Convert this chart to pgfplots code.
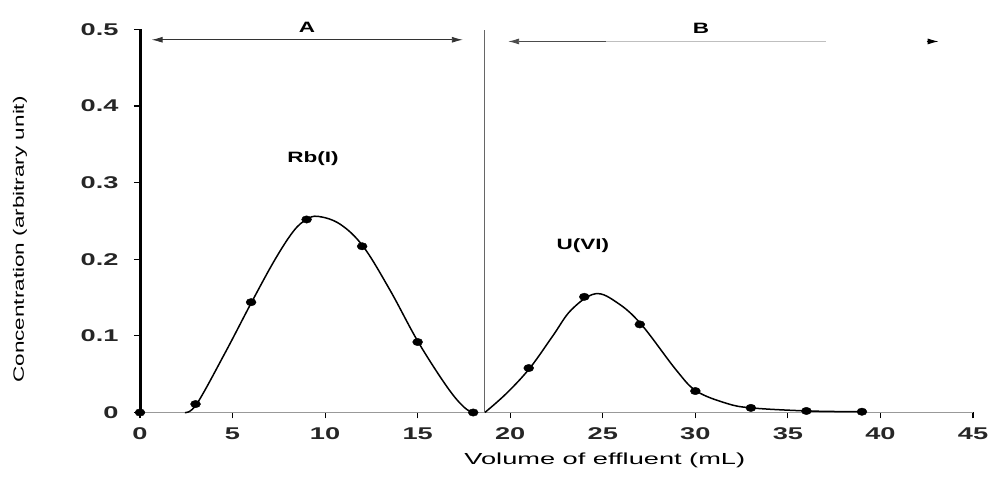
\documentclass[border=0pt]{standalone}
\usepackage{pgfplots}
\pgfplotsset{compat=1.18}
\usepackage{fontspec}
\setmainfont{Liberation Sans}
\usetikzlibrary{arrows.meta}
\newcommand{\sx}[1]{\scalebox{1.6}[1]{#1}}
\begin{document}
\begin{tikzpicture}
\path[use as bounding box] (0,0) rectangle (993pt,478pt);
\begin{axis}[
  at={(140pt,65.5pt)}, anchor=south west,
  scale only axis, width=833pt, height=383pt,
  xmin=0, xmax=45, ymin=0, ymax=0.5,
  axis x line*=bottom, axis y line*=left,
  x axis line style={draw=black!40, line width=1.2pt},
  y axis line style={draw=black, line width=3pt},
  xtick={0,5,10,15,20,25,30,35,40,45},
  xticklabels={\sx{0},\sx{5},\sx{10},\sx{15},\sx{20},\sx{25},\sx{30},\sx{35},\sx{40},\sx{45}},
  ytick={0,0.1,0.2,0.3,0.4,0.5},
  yticklabels={\sx{0},\sx{0.1},\sx{0.2},\sx{0.3},\sx{0.4},\sx{0.5}},
  tick align=outside, major tick length=6pt,
  tick style={black, line width=1.2pt},
  ticklabel style={font=\bfseries\fontsize{17}{20}\selectfont, text=black!85},
  xticklabel style={yshift=-6pt},
  yticklabel style={xshift=-12pt},
  clip=false,
  xlabel={\scalebox{1.7}[1]{Volume of effluent (mL)}},
  ylabel={\scalebox{1.5}[1]{Concentration (arbitrary unit)}},
  xlabel style={at={(axis description cs:0.558,-0.124)}, anchor=center, font=\fontsize{16}{19}\selectfont},
  ylabel style={at={(axis description cs:-0.144,0.452)}, anchor=center, font=\fontsize{15}{18}\selectfont},
]
% fitted curves
\addplot[black, line width=1.5pt, smooth, tension=0.6] coordinates {
 (2.43,0) (3.06,0.011) (4.6,0.078) (6.03,0.144) (7.3,0.200) (8.3,0.237) (9.0,0.252) (9.63,0.256)
 (10.8,0.246) (12.05,0.217) (13.5,0.160) (15.03,0.092) (16.6,0.033) (17.5,0.007) (18,0)};
\addplot[black, line width=1.5pt, smooth, tension=0.6] coordinates {
 (18.63,0) (19.8,0.025) (21.06,0.058) (22.3,0.100) (23.3,0.134) (24.6,0.155) (25.8,0.143)
 (27.08,0.115) (28.98,0.055) (30.06,0.028) (31.68,0.012) (33.03,0.006) (36.08,0.002) (39.04,0.001)};
% measured points
\addplot[only marks, mark=*, mark size=3.7pt, mark options={xscale=1.35, fill=black}] coordinates {
 (0,0) (3,0.011) (6,0.144) (9,0.252) (12,0.217) (15,0.092) (18,0)};
\addplot[only marks, mark=*, mark size=3.7pt, mark options={xscale=1.35, fill=black}] coordinates {
 (21,0.058) (24,0.151) (27,0.115) (30,0.028) (33,0.006) (36,0.002) (39,0.001)};
% separator
\addplot[black!60, line width=1.2pt] coordinates {(18.6,0) (18.6,0.4987)};
% region arrows
\draw[{Latex[length=11pt,width=6pt]}-{Latex[length=11pt,width=6pt]}, black!80, line width=0.9pt]
  (axis cs:0.63,0.4866) -- (axis cs:17.44,0.4866);
\draw[{Latex[length=11pt,width=6pt]}-, black!70, line width=0.9pt]
  (axis cs:19.89,0.4844) -- (axis cs:25.2,0.4844);
\draw[black!25, line width=0.9pt] (axis cs:25.2,0.4844) -- (axis cs:37.08,0.4844);
\draw[-{Latex[length=11pt,width=6pt]}, black, line width=0.9pt]
  (axis cs:42.5,0.4844) -- (axis cs:43.14,0.4844);
\node[font=\bfseries\fontsize{15}{18}\selectfont, xscale=1.5] at (axis cs:9.02,0.5026) {A};
\node[font=\bfseries\fontsize{15}{18}\selectfont, xscale=1.5] at (axis cs:30.3,0.501) {B};
\node[font=\bfseries\fontsize{15}{18}\selectfont, xscale=1.5] at (axis cs:9.34,0.331) {Rb(I)};
\node[font=\bfseries\fontsize{15}{18}\selectfont, xscale=1.5] at (axis cs:23.92,0.218) {U(VI)};
\end{axis}
\end{tikzpicture}
\end{document}
